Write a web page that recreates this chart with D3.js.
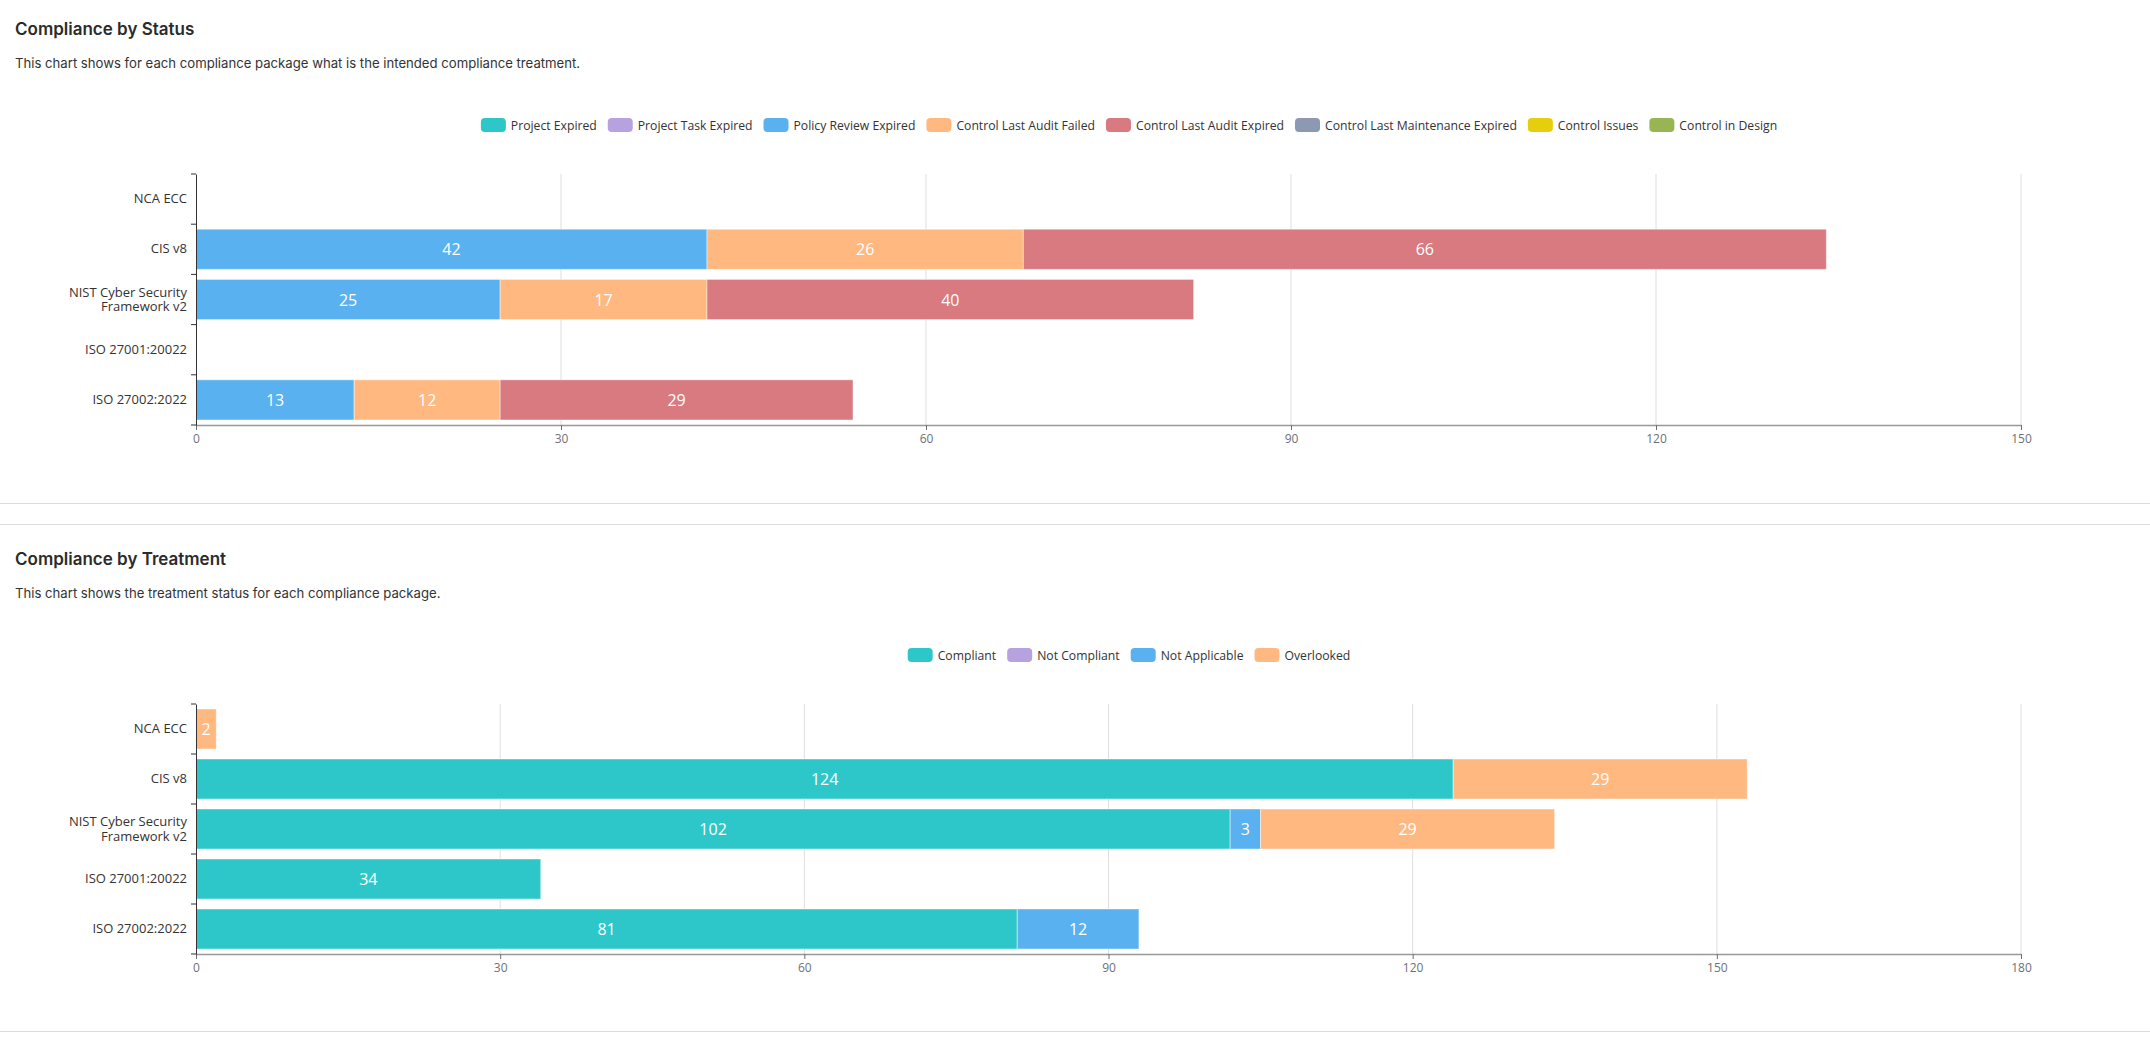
<!DOCTYPE html>
<html>
<head>
<meta charset="utf-8">
<script src="https://cdn.jsdelivr.net/npm/d3@7"></script>
<style>
  body { margin: 0; background: #fff; }
  svg { display: block; }
</style>
</head>
<body>
<div id="chart"></div>
<script>
// packages, top to bottom
const categories = ["NCA ECC", "CIS v8", "NIST Cyber Security\nFramework v2", "ISO 27001:20022", "ISO 27002:2022"];

// chart 1 - compliance by status
const statusNames = ["Project Expired", "Project Task Expired", "Policy Review Expired", "Control Last Audit Failed",
  "Control Last Audit Expired", "Control Last Maintenance Expired", "Control Issues", "Control in Design"];
const projectExpired = [0, 0, 0, 0, 0];
const projectTaskExpired = [0, 0, 0, 0, 0];
const policyReviewExpired = [0, 42, 25, 0, 13];
const controlLastAuditFailed = [0, 26, 17, 0, 12];
const controlLastAuditExpired = [0, 66, 40, 0, 29];
const controlLastMaintenanceExpired = [0, 0, 0, 0, 0];
const controlIssues = [0, 0, 0, 0, 0];
const controlInDesign = [0, 0, 0, 0, 0];
const statusTicks = [0, 30, 60, 90, 120, 150];

// chart 2 - compliance by treatment
const treatmentNames = ["Compliant", "Not Compliant", "Not Applicable", "Overlooked"];
const compliant = [0, 124, 102, 34, 81];
const notCompliant = [0, 0, 0, 0, 0];
const notApplicable = [0, 0, 3, 0, 12];
const overlooked = [2, 29, 29, 0, 0];
const treatmentTicks = [0, 30, 60, 90, 120, 150, 180];

const palette = ["#2ec7c9", "#b6a2de", "#5ab1ef", "#ffb980", "#d87a80", "#8d98b3", "#e5cf0d", "#97b552"];

const W = 2150, H = 1045;
const LEFT = 196, RIGHT = 2021;
const LEGEND_CX = 1129;

const svg = d3.select("#chart").append("svg")
  .attr("width", W)
  .attr("height", H);

function drawSection(opts) {
  const g = svg.append("g");

  g.append("text")
    .attr("x", 15).attr("y", opts.titleY)
    .attr("dominant-baseline", "central")
    .style("font-family", "Inter, sans-serif")
    .style("font-size", "17px")
    .style("font-weight", 600)
    .style("fill", "#2b2b2b")
    .text(opts.title);

  g.append("text")
    .attr("x", 15).attr("y", opts.titleY + 34)
    .attr("dominant-baseline", "central")
    .style("font-family", "Inter, sans-serif")
    .style("font-size", "13.15px")
    .style("fill", "#333")
    .text(opts.subtitle);

  // legend, centered
  const legend = g.append("g");
  let lx = 0;
  opts.names.forEach((name, i) => {
    const item = legend.append("g").attr("transform", `translate(${lx},0)`);
    item.append("rect")
      .attr("x", 0).attr("y", -7)
      .attr("width", 25).attr("height", 14)
      .attr("rx", 4)
      .attr("fill", palette[i]);
    const t = item.append("text")
      .attr("x", 30).attr("y", 0)
      .attr("dominant-baseline", "central")
      .style("font-family", "'Open Sans', sans-serif")
      .style("font-size", "12.2px")
      .style("fill", "#333")
      .text(name);
    lx += 30 + t.node().getComputedTextLength() + 11;
  });
  const legendW = lx - 11;
  legend.attr("transform", `translate(${LEGEND_CX - legendW / 2},${opts.legendY})`);

  const x = d3.scaleLinear()
    .domain([0, opts.ticks[opts.ticks.length - 1]])
    .range([LEFT, RIGHT]);

  const y = d3.scaleBand()
    .domain(categories)
    .range([opts.top, opts.bottom])
    .paddingInner(0.2)
    .paddingOuter(0.1);

  // grid
  g.append("g").selectAll("line")
    .data(opts.ticks.slice(1))
    .join("line")
    .attr("x1", d => x(d)).attr("x2", d => x(d))
    .attr("y1", opts.top).attr("y2", opts.bottom)
    .attr("stroke", "#dedede")
    .attr("stroke-width", 1);

  // bars
  const rows = categories.map((c, i) => {
    const r = { cat: c };
    opts.names.forEach((n, k) => { r[n] = opts.series[k][i]; });
    return r;
  });
  const stacked = d3.stack().keys(opts.names)(rows);

  const layers = g.append("g").selectAll("g")
    .data(stacked)
    .join("g")
    .attr("fill", (d, i) => palette[i]);

  layers.selectAll("rect")
    .data(d => d.filter(s => s[1] - s[0] > 0))
    .join("rect")
    .attr("x", d => x(d[0]))
    .attr("y", d => y(d.data.cat))
    .attr("width", d => x(d[1]) - x(d[0]))
    .attr("height", y.bandwidth())
    .attr("stroke", "#fff")
    .attr("stroke-opacity", 0.45)
    .attr("stroke-width", 1);

  layers.selectAll("text")
    .data(d => d.filter(s => s[1] - s[0] > 0))
    .join("text")
    .attr("x", d => (x(d[0]) + x(d[1])) / 2)
    .attr("y", d => y(d.data.cat) + y.bandwidth() / 2)
    .attr("text-anchor", "middle")
    .attr("dominant-baseline", "central")
    .style("font-family", "'Open Sans', sans-serif")
    .style("font-size", "16px")
    .style("fill", "#fff")
    .text(d => d[1] - d[0]);

  // x axis
  const xAxis = g.append("g")
    .attr("transform", `translate(0,${opts.bottom})`)
    .call(d3.axisBottom(x).tickValues(opts.ticks).tickSize(5).tickPadding(4).tickSizeOuter(0));
  xAxis.select(".domain").attr("stroke", "#999").attr("stroke-width", 1.5);
  xAxis.selectAll(".tick line").attr("stroke", "#6E7079");
  xAxis.selectAll(".tick text")
    .style("font-family", "'Open Sans', sans-serif")
    .style("font-size", "12px")
    .style("fill", "#6E7079");

  // y axis, ticks on band boundaries
  const yAxis = g.append("g")
    .attr("transform", `translate(${LEFT},0)`)
    .call(d3.axisLeft(y).tickSize(0).tickPadding(9));
  yAxis.select(".domain").attr("stroke", "#333");
  yAxis.selectAll(".tick text")
    .style("font-family", "'Open Sans', sans-serif")
    .style("font-size", "13px")
    .style("fill", "#333")
    .each(function (d) {
      const lines = d.split("\n");
      if (lines.length < 2) return;
      const t = d3.select(this).text(null);
      lines.forEach((ln, i) => {
        t.append("tspan")
          .attr("x", -9)
          .attr("dy", i === 0 ? "-0.2em" : "1.1em")
          .text(ln);
      });
    });

  const step = y.step();
  yAxis.append("g").selectAll("line")
    .data(d3.range(categories.length + 1))
    .join("line")
    .attr("x1", -5).attr("x2", 0)
    .attr("y1", i => opts.top + i * step)
    .attr("y2", i => opts.top + i * step)
    .attr("stroke", "#333");
}

drawSection({
  title: "Compliance by Status",
  subtitle: "This chart shows for each compliance package what is the intended compliance treatment.",
  titleY: 29,
  legendY: 125,
  top: 174,
  bottom: 425,
  names: statusNames,
  series: [projectExpired, projectTaskExpired, policyReviewExpired, controlLastAuditFailed,
    controlLastAuditExpired, controlLastMaintenanceExpired, controlIssues, controlInDesign],
  ticks: statusTicks
});

drawSection({
  title: "Compliance by Treatment",
  subtitle: "This chart shows the treatment status for each compliance package.",
  titleY: 559,
  legendY: 655,
  top: 704,
  bottom: 954,
  names: treatmentNames,
  series: [compliant, notCompliant, notApplicable, overlooked],
  ticks: treatmentTicks
});

// section separators
svg.selectAll("line.sep")
  .data([503.5, 524.5, 1031.5])
  .join("line")
  .attr("class", "sep")
  .attr("x1", 0).attr("x2", W)
  .attr("y1", d => d).attr("y2", d => d)
  .attr("stroke", "#dcdcdc");
</script>
</body>
</html>
